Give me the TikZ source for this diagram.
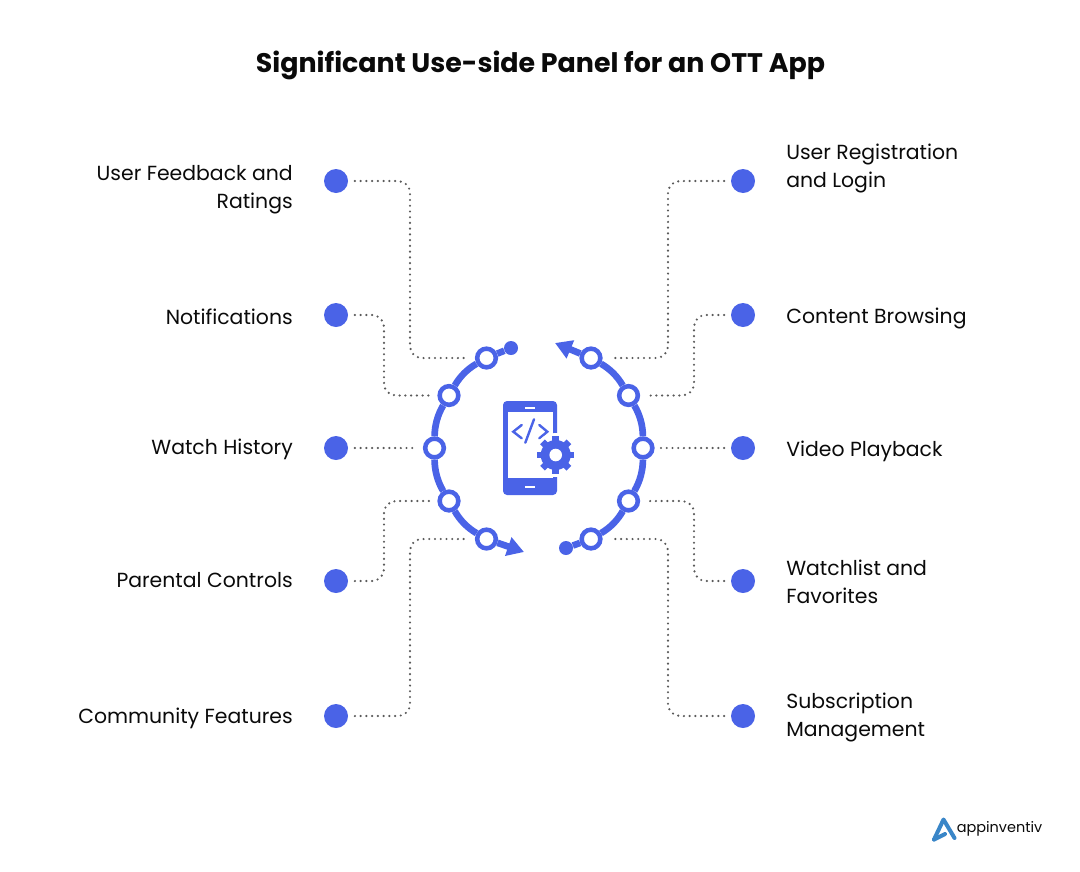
\documentclass[tikz,border=0pt]{standalone}
\usepackage{fontspec}
\setmainfont{Poppins}
\usetikzlibrary{arrows.meta}

\definecolor{panelblue}{HTML}{4A63E7}
\definecolor{logoblue}{HTML}{3A86C8}
\definecolor{inkblack}{HTML}{0A0A0A}
\definecolor{leadgray}{HTML}{5A5A5A}

\tikzset{
  bullet/.style={circle,fill=panelblue,inner sep=0pt,minimum size=18pt},
  ringstop/.style={circle,draw=panelblue,fill=white,line width=3.4pt,inner sep=0pt,minimum size=14pt},
  endstop/.style={circle,fill=panelblue,inner sep=0pt,minimum size=10.5pt},
  leftlabel/.style={anchor=east,align=right,inner sep=0pt,text=inkblack,font=\fontsize{15.3}{21}\selectfont},
  rightlabel/.style={anchor=west,align=left,inner sep=0pt,text=inkblack,font=\fontsize{15.3}{21}\selectfont},
  lead/.style={draw=leadgray,line width=1.8pt,line cap=round,dash pattern=on 0pt off 4.3pt,rounded corners=9pt,shorten <=5pt,shorten >=6pt},
  hoop/.style={draw=panelblue,line width=5pt},
  gearline/.style={draw=panelblue,line width=5pt},
  codeline/.style={draw=panelblue,line width=1.8pt,line cap=round},
}

\begin{document}
\begin{tikzpicture}[x=0.75pt,y=-0.75pt]
\useasboundingbox (0,0) rectangle (1080,871);

\node[font=\fontsize{20.15}{25}\selectfont\bfseries,text=inkblack] (title) at (540.5,65) {Significant Use-side Panel for an OTT App};

\coordinate (laneA) at (410,0);
\coordinate (laneB) at (384,0);
\coordinate (laneC) at (668,0);
\coordinate (laneD) at (694,0);

\node[ringstop] (feedbackRing) at (486.5,358) {};
\node[ringstop] (noticeRing) at (449,395.5) {};
\node[ringstop] (historyRing) at (434.5,448) {};
\node[ringstop] (parentalRing) at (449,501) {};
\node[ringstop] (communityRing) at (486.5,539) {};
\node[ringstop] (loginRing) at (591,358) {};
\node[ringstop] (browseRing) at (628.5,395.5) {};
\node[ringstop] (playRing) at (643,448) {};
\node[ringstop] (watchRing) at (628.5,501) {};
\node[ringstop] (subRing) at (591,539) {};

\node[endstop] (leftEnd) at (511,348) {};
\node[endstop] (rightEnd) at (566,548) {};
\coordinate (leftTip) at (524,552);
\coordinate (rightTip) at (555,343);

\draw[hoop] (feedbackRing) -- (leftEnd);
\draw[hoop] (feedbackRing) to[bend right=15,looseness=0.87] (noticeRing);
\draw[hoop] (noticeRing) to[bend right=15,looseness=0.87] (historyRing);
\draw[hoop] (historyRing) to[bend right=15,looseness=0.87] (parentalRing);
\draw[hoop] (parentalRing) to[bend right=15,looseness=0.87] (communityRing);
\draw[hoop,-{Triangle[length=12.5pt,width=14pt]}] (communityRing) -- (leftTip);

\draw[hoop] (subRing) -- (rightEnd);
\draw[hoop] (subRing) to[bend right=15,looseness=0.87] (watchRing);
\draw[hoop] (watchRing) to[bend right=15,looseness=0.87] (playRing);
\draw[hoop] (playRing) to[bend right=15,looseness=0.87] (browseRing);
\draw[hoop] (browseRing) to[bend right=15,looseness=0.87] (loginRing);
\draw[hoop,-{Triangle[length=12.5pt,width=14pt]}] (loginRing) -- (rightTip);

\node[bullet] (feedbackDot) at (336,181) {};
\node[bullet] (noticeDot) at (336,315) {};
\node[bullet] (historyDot) at (336,448) {};
\node[bullet] (parentalDot) at (336,581) {};
\node[bullet] (communityDot) at (336,716) {};
\node[bullet] (loginDot) at (743,181) {};
\node[bullet] (browseDot) at (743,315) {};
\node[bullet] (playDot) at (743,448) {};
\node[bullet] (watchDot) at (743,581) {};
\node[bullet] (subDot) at (743,716) {};

\node[leftlabel] (feedbackText) at (293,190) {User Feedback and\\Ratings};
\node[leftlabel] (noticeText) at (293,317) {Notifications};
\node[leftlabel] (historyText) at (293,449) {Watch History};
\node[leftlabel] (parentalText) at (293,580) {Parental Controls};
\node[leftlabel] (communityText) at (293,718) {Community Features};
\node[rightlabel] (loginText) at (786,168) {User Registration\\and Login};
\node[rightlabel] (browseText) at (786,318) {Content Browsing};
\node[rightlabel] (playText) at (786,451) {Video Playback};
\node[rightlabel] (watchText) at (786,582) {Watchlist and\\Favorites};
\node[rightlabel] (subText) at (786,717) {Subscription\\Management};

\draw[lead] (feedbackDot.east) -- (feedbackDot -| laneA) -- (feedbackRing -| laneA) -- (feedbackRing.west);
\draw[lead] (noticeDot.east) -- (noticeDot -| laneB) -- (noticeRing -| laneB) -- (noticeRing.west);
\draw[lead] (historyDot.east) -- (historyRing.west);
\draw[lead] (parentalDot.east) -- (parentalDot -| laneB) -- (parentalRing -| laneB) -- (parentalRing.west);
\draw[lead] (communityDot.east) -- (communityDot -| laneA) -- (communityRing -| laneA) -- (communityRing.west);
\draw[lead] (loginDot.west) -- (loginDot -| laneC) -- (loginRing -| laneC) -- (loginRing.east);
\draw[lead] (browseDot.west) -- (browseDot -| laneD) -- (browseRing -| laneD) -- (browseRing.east);
\draw[lead,shorten >=3.5pt] (playDot.west) -- (playRing.east);
\draw[lead] (watchDot.west) -- (watchDot -| laneD) -- (watchRing -| laneD) -- (watchRing.east);
\draw[lead] (subDot.west) -- (subDot -| laneC) -- (subRing -| laneC) -- (subRing.east);

\fill[panelblue,rounded corners=3pt] (503,401) rectangle (557,495);
\fill[white] (508,412) rectangle (553,478);
\draw[white,line width=1.8pt] (525,408) -- (535,408);
\draw[white,line width=1.8pt] (525,487) -- (535,487);

\draw[codeline] (521.7,425) -- (513.3,431.7) -- (521.7,438.3);
\draw[codeline] (534,419.3) -- (525.3,442.7);
\draw[codeline] (539.3,425) -- (547.3,431.7) -- (539.3,438.3);

\coordinate (gear) at (555.7,455);
\fill[white] (gear) circle (22);
\fill[panelblue] (gear) circle (15);
\draw[gearline] (gear) ++(-18.7,0) -- ++(37.4,0);
\draw[gearline] (gear) ++(0,-18.7) -- ++(0,37.4);
\draw[gearline] (gear) ++(-13.2,-13.2) -- ++(26.4,26.4);
\draw[gearline] (gear) ++(-13.2,13.2) -- ++(26.4,-26.4);
\fill[white] (gear) circle (6.3);

\draw[logoblue,line width=3pt,line join=round,line cap=round] (934,839.5) -- (943.5,819.5) -- (954.5,838);
\draw[logoblue,line width=3pt,line cap=round] (934,839.5) -- (945,834);

\node[anchor=west,inner sep=0pt,text=inkblack,font=\fontsize{10.85}{14}\selectfont] (logoText) at (956.5,829) {appinventiv};
\end{tikzpicture}
\end{document}
